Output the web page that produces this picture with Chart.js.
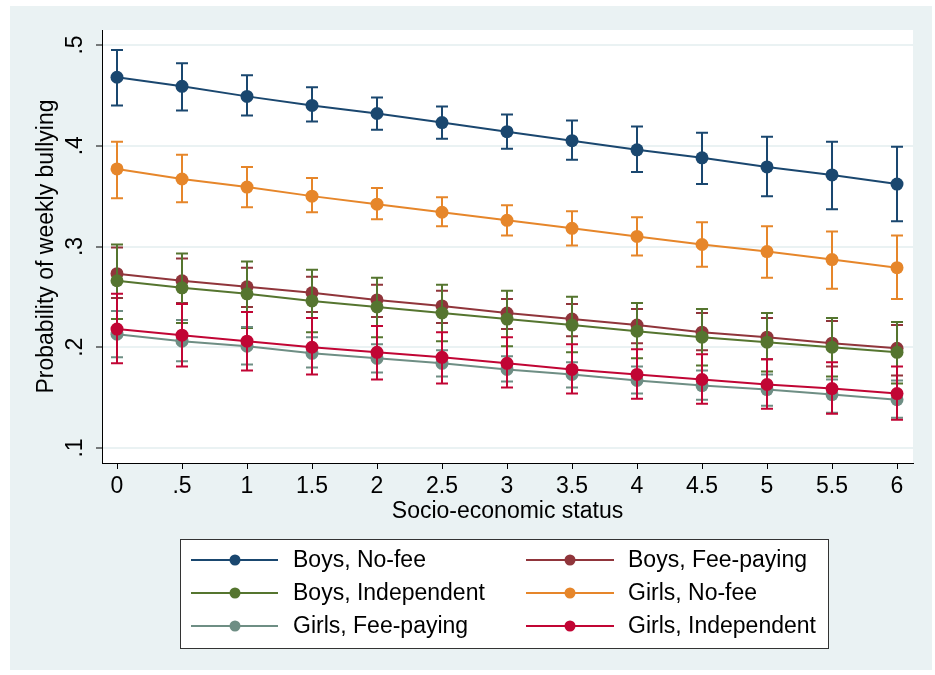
<!DOCTYPE html>
<html>
<head>
<meta charset="utf-8">
<script src="https://cdn.jsdelivr.net/npm/chart.js@4.4.1/dist/chart.umd.min.js"></script>
<style>
  html, body { margin: 0; padding: 0; background: #fff; }
  canvas { display: block; }
</style>
</head>
<body>
<canvas id="chart" width="935" height="675"></canvas>
<script>
// socio-economic status (x) and tick labels
const ses = [0, 0.5, 1, 1.5, 2, 2.5, 3, 3.5, 4, 4.5, 5, 5.5, 6];
const xTicks = [0, 0.5, 1, 1.5, 2, 2.5, 3, 3.5, 4, 4.5, 5, 5.5, 6];
const xTickLabels = ["0", ".5", "1", "1.5", "2", "2.5", "3", "3.5", "4", "4.5", "5", "5.5", "6"];
const yTicks = [0.1, 0.2, 0.3, 0.4, 0.5];
const yTickLabels = [".1", ".2", ".3", ".4", ".5"];

const seriesNames = ["Boys, No-fee", "Boys, Fee-paying", "Boys, Independent",
                     "Girls, No-fee", "Girls, Fee-paying", "Girls, Independent"];

// predicted probabilities and 95% CI bounds
const boysNoFee     = [.468, .459, .449, .440, .432, .423, .414, .405, .396, .388, .379, .371, .362];
const boysNoFeeLo   = [.440, .435, .430, .424, .416, .407, .397, .386, .374, .362, .350, .337, .325];
const boysNoFeeHi   = [.495, .482, .470, .458, .448, .439, .431, .425, .419, .413, .409, .404, .399];

const boysFee       = [.273, .266, .260, .254, .247, .241, .234, .228, .222, .215, .210, .204, .199];
const boysFeeLo     = [.249, .244, .240, .235, .230, .224, .218, .211, .204, .197, .188, .181, .172];
const boysFeeHi     = [.299, .288, .279, .270, .262, .256, .248, .243, .238, .234, .229, .226, .222];

const boysInd       = [.266, .259, .253, .246, .240, .234, .228, .222, .216, .210, .205, .200, .195];
const boysIndLo     = [.228, .224, .219, .215, .210, .206, .201, .195, .189, .182, .176, .171, .164];
const boysIndHi     = [.302, .293, .285, .277, .269, .262, .256, .250, .244, .238, .234, .229, .225];

const girlsNoFee    = [.377, .367, .359, .350, .342, .334, .326, .318, .310, .302, .295, .287, .279];
const girlsNoFeeLo  = [.348, .344, .339, .334, .327, .320, .311, .301, .291, .280, .269, .258, .248];
const girlsNoFeeHi  = [.404, .391, .379, .368, .358, .349, .341, .335, .329, .324, .320, .315, .311];

const girlsFee      = [.213, .206, .201, .194, .189, .184, .178, .173, .167, .162, .158, .153, .148];
const girlsFeeLo    = [.190, .186, .183, .180, .175, .171, .166, .160, .154, .148, .142, .135, .130];
const girlsFeeHi    = [.236, .227, .220, .210, .203, .197, .191, .185, .181, .177, .173, .168, .167];

const girlsInd      = [.218, .212, .206, .200, .195, .190, .184, .178, .173, .168, .163, .159, .154];
const girlsIndLo    = [.184, .181, .177, .173, .168, .164, .160, .154, .149, .144, .139, .134, .128];
const girlsIndHi    = [.253, .243, .235, .229, .221, .215, .210, .203, .198, .193, .188, .185, .181];

const colors = ["#1a476f", "#90353b", "#55752f", "#e6862a", "#6e8e84", "#c10534"];

const means = [boysNoFee, boysFee, boysInd, girlsNoFee, girlsFee, girlsInd];
const lows  = [boysNoFeeLo, boysFeeLo, boysIndLo, girlsNoFeeLo, girlsFeeLo, girlsIndLo];
const highs = [boysNoFeeHi, boysFeeHi, boysIndHi, girlsNoFeeHi, girlsFeeHi, girlsIndHi];

const BG = "#eaf2f3";
Chart.defaults.font.family = '"Liberation Sans", Arial, Helvetica, sans-serif';
Chart.defaults.font.size = 23;
Chart.defaults.color = "#000";

// stata-like background: white border, pale blue graph region, white plot region
const background = {
  id: "background",
  beforeDraw(chart) {
    const { ctx, chartArea: a } = chart;
    ctx.save();
    ctx.fillStyle = "#fff";
    ctx.fillRect(0, 0, chart.width, chart.height);
    ctx.fillStyle = BG;
    ctx.fillRect(10, 6, 922, 664);
    ctx.fillStyle = "#fff";
    ctx.fillRect(a.left, a.top, a.right - a.left, a.bottom - a.top);
    ctx.restore();
  }
};

// CI caps, drawn under each series' own line
const errorBars = {
  id: "errorBars",
  beforeDatasetDraw(chart, args) {
    const i = args.index;
    const { ctx, scales: { x, y } } = chart;
    ctx.save();
    ctx.strokeStyle = colors[i];
    ctx.lineWidth = 2;
    ses.forEach((s, k) => {
      const px = x.getPixelForValue(s);
      const y1 = y.getPixelForValue(lows[i][k]);
      const y2 = y.getPixelForValue(highs[i][k]);
      ctx.beginPath();
      ctx.moveTo(px, y1); ctx.lineTo(px, y2);
      ctx.moveTo(px - 6, y1); ctx.lineTo(px + 6, y1);
      ctx.moveTo(px - 6, y2); ctx.lineTo(px + 6, y2);
      ctx.stroke();
    });
    ctx.restore();
  }
};

// boxed two-column legend under the plot
const boxLegend = {
  id: "boxLegend",
  afterDraw(chart) {
    const ctx = chart.ctx;
    ctx.save();
    ctx.fillStyle = "#fff";
    ctx.fillRect(181, 540, 648, 108);
    ctx.strokeStyle = "#333";
    ctx.lineWidth = 1;
    ctx.strokeRect(180.5, 539.5, 648, 109);
    const rows = [560, 593, 626];
    const cols = [{ l0: 191, l1: 278, m: 235, t: 293 }, { l0: 526, l1: 614, m: 570, t: 628 }];
    chart.data.datasets.forEach((ds, i) => {
      const c = cols[i % 2], ry = rows[Math.floor(i / 2)];
      ctx.strokeStyle = ds.borderColor;
      ctx.lineWidth = 2;
      ctx.beginPath();
      ctx.moveTo(c.l0, ry); ctx.lineTo(c.l1, ry);
      ctx.stroke();
      ctx.fillStyle = ds.borderColor;
      ctx.beginPath();
      ctx.arc(c.m, ry, 5.5, 0, Math.PI * 2);
      ctx.fill();
      ctx.fillStyle = "#000";
      ctx.font = '23px "Liberation Sans", Arial, Helvetica, sans-serif';
      ctx.textBaseline = "middle";
      ctx.fillText(ds.label, c.t, ry + 1);
    });
    ctx.restore();
  }
};

const datasets = seriesNames.map((name, i) => ({
  label: name,
  data: ses.map((s, k) => ({ x: s, y: means[i][k] })),
  borderColor: colors[i],
  backgroundColor: colors[i],
  pointBackgroundColor: colors[i],
  pointBorderWidth: 0,
  pointRadius: 6.5,
  borderWidth: 2,
  tension: 0,
  order: 10 - i
}));

new Chart(document.getElementById("chart"), {
  type: "line",
  data: { datasets },
  options: {
    responsive: false,
    animation: false,
    devicePixelRatio: 1,
    layout: { padding: { top: 30, right: 22, bottom: 142, left: 0 } },
    plugins: {
      legend: { display: false },
      tooltip: { enabled: false }
    },
    scales: {
      x: {
        type: "linear",
        min: -0.1154,
        max: 6.123,
        afterBuildTicks: (scale) => { scale.ticks = xTicks.map(v => ({ value: v })); },
        afterFit: (scale) => { scale.height = 70; },
        ticks: {
          padding: 4,
          maxRotation: 0,
          minRotation: 0,
          callback: (v, idx) => xTickLabels[idx]
        },
        grid: { drawOnChartArea: false, tickColor: "#000", tickLength: 6, tickWidth: 1 },
        border: { color: "#000", width: 1 },
        title: { display: true, text: "Socio-economic status", padding: { top: 0, bottom: 8 } }
      },
      y: {
        min: 0.08511,
        max: 0.51489,
        afterBuildTicks: (scale) => { scale.ticks = yTicks.map(v => ({ value: v })); },
        afterFit: (scale) => { scale.width = 102; },
        ticks: {
          padding: 11,
          minRotation: 90,
          maxRotation: 90,
          crossAlign: "center",
          callback: (v, idx) => yTickLabels[idx]
        },
        grid: { color: BG, lineWidth: 2, tickColor: "#000", tickLength: 6, tickWidth: 1 },
        border: { color: "#000", width: 1 },
        title: { display: true, text: "Probability of weekly bullying", padding: { top: 33, bottom: 0 } }
      }
    }
  },
  plugins: [background, errorBars, boxLegend]
});
</script>
</body>
</html>
